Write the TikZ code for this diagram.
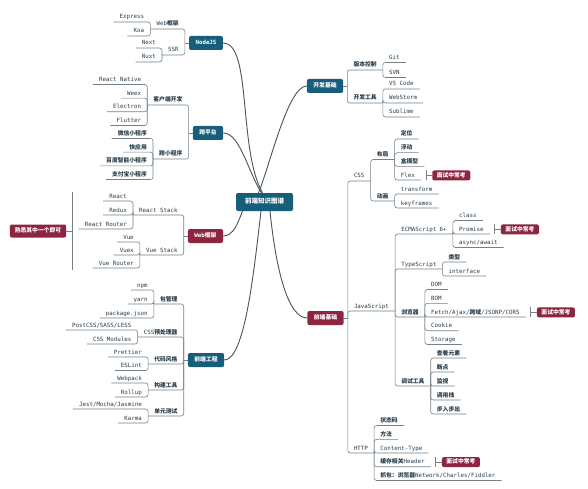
\documentclass[tikz,border=0pt]{standalone}
\usepackage{fontspec}
\setmainfont{DejaVu Sans Mono}
\newfontfamily\cjk{Noto Sans CJK SC}
\newcommand\zh[1]{{\cjk\bfseries #1}}
\definecolor{teal1}{RGB}{22,94,122}
\definecolor{mar}{RGB}{139,37,64}
\definecolor{txt}{RGB}{40,62,76}
\definecolor{ln}{RGB}{120,128,134}
\definecolor{mln}{RGB}{72,84,92}
\pgfdeclarelayer{back}\pgfdeclarelayer{bg}\pgfsetlayers{back,bg,main}
\tikzset{
 topic/.style={font=\fontsize{5.8}{7}\selectfont, text=txt, inner xsep=6pt, inner ysep=1.6pt, text height=4.4pt, text depth=1.2pt},
 br/.style={draw=ln, line width=0.6pt, rounded corners=2.5pt},
 mainl/.style={draw=mln, line width=0.9pt},
 lone/.style={fill=teal1, text=white, rounded corners=2pt, inner xsep=6.5pt, inner ysep=0pt, minimum height=14pt, text height=4.4pt, text depth=1.2pt, font=\fontsize{5.8}{7}\selectfont\bfseries},
 mbox/.style={fill=mar, text=white, rounded corners=2pt, inner xsep=4.5pt, inner ysep=0pt, minimum height=10pt, text height=4.4pt, text depth=1.2pt, font=\fontsize{5.8}{7}\selectfont},
}
\newcommand\LK[4]{%
 \node[topic, anchor=south east] (#1) at ([yshift=#3pt]#2) {#4};
 \draw[br] (#2) |- (#1.south west);}
\newcommand\RK[4]{%
 \node[topic, anchor=south west] (#1) at ([yshift=#3pt]#2) {#4};
 \draw[br] (#2) |- (#1.south east);}
\newcommand\CO[3]{%
 \coordinate (#1a) at ([xshift=5pt]#2.east);
 \draw[br, rounded corners=0pt] ([yshift=5pt]#1a) -- ([yshift=-5pt]#1a);
 \node[mbox, anchor=west] (#1) at ([xshift=6pt]#1a) {\zh{#3}};
 \draw[br] (#1a) -- (#1.west);}
\begin{document}
\begin{tikzpicture}[x=1pt,y=-1pt]
\begin{pgfonlayer}{back}
\path[use as bounding box, fill=white] (0,0) rectangle (588,489);
\end{pgfonlayer}

% center and level-1 nodes
\node[lone, minimum height=18pt, inner xsep=9pt, font=\fontsize{6.5}{8}\selectfont] (center) at (264.5,202) {\zh{前端知识图谱}};
\node[lone] (nodejs) at (206,43) {NodeJS};
\node[lone] (kd) at (208,133) {\zh{跨平台}};
\node[lone, fill=mar] (webb) at (205.5,236) {Web\zh{框架}};
\node[lone] (eng) at (206,360) {\zh{前端工程}};
\node[lone] (devb) at (325,86) {\zh{开发基础}};
\node[lone, fill=mar] (basic) at (325.5,318) {\zh{前端基础}};

\begin{pgfonlayer}{bg}
\draw[mainl] (nodejs.east) .. controls (252,43) and (238,150) .. ([xshift=-2pt]center.north);
\draw[mainl] (kd.east) .. controls (240,133) and (248,172) .. ([xshift=-3pt]center.north);
\draw[mainl] (devb.west) .. controls (288,86) and (270,165) .. ([xshift=-6pt]center.north);
\draw[mainl] (webb.east) .. controls (234,236) and (238,222) .. ([xshift=-22pt]center.south);
\draw[mainl] (eng.east) .. controls (245,360) and (254,270) .. ([xshift=-3.5pt]center.south);
\draw[mainl] (basic.west) .. controls (288,318) and (276,270) .. ([xshift=5.5pt]center.south);
\end{pgfonlayer}

% NodeJS
\coordinate (nodejsA) at ([xshift=-4pt]nodejs.west);
\draw[br] (nodejs.west) -- (nodejsA);
\LK{n1}{nodejsA}{14}{Web\zh{框架}}
\LK{n11}{n1.south west}{7}{Express}
\LK{n12}{n1.south west}{-7}{Koa}
\LK{n2}{nodejsA}{-12}{SSR}
\LK{n21}{n2.south west}{7}{Next}
\LK{n22}{n2.south west}{-7}{Nuxt}

% cross platform
\coordinate (kdA) at ([xshift=-4pt]kd.west);
\draw[br] (kd.west) -- (kdA);
\LK{k1}{kdA}{28}{\zh{客户端开发}}
\LK{k11}{k1.south west}{20.5}{React Native}
\LK{k12}{k1.south west}{6.8}{Weex}
\LK{k13}{k1.south west}{-6.8}{Electron}
\LK{k14}{k1.south west}{-20.5}{Flutter}
\LK{k2}{kdA}{-26}{\zh{跨小程序}}
\LK{k21}{k2.south west}{20.5}{\zh{微信小程序}}
\LK{k22}{k2.south west}{6.8}{\zh{快应用}}
\LK{k23}{k2.south west}{-6.8}{\zh{百度智能小程序}}
\LK{k24}{k2.south west}{-20.5}{\zh{支付宝小程序}}

% Web frameworks
\coordinate (webA) at ([xshift=-4pt]webb.west);
\draw[br] (webb.west) -- (webA);
\LK{w1}{webA}{21}{React Stack}
\LK{w11}{w1.south west}{14}{React}
\LK{w12}{w1.south west}{0}{Redux}
\LK{w13}{w1.south west}{-14}{React Router}
\LK{w2}{webA}{-19}{Vue Stack}
\LK{w21}{w2.south west}{13}{Vue}
\LK{w22}{w2.south west}{0}{Vuex}
\LK{w23}{w2.south west}{-13}{Vue Router}
\node[mbox, minimum height=13pt, inner xsep=5pt] (sum) at (38,231) {\zh{熟悉其中一个即可}};
\coordinate (sumT) at (72,192);
\coordinate (sumB) at (72,270);
\coordinate (sumM) at (72,231);
\draw[br, rounded corners=0pt] (sumT) -- (sumB);
\draw[br] (sumM) -- (sum.east);

% engineering
\coordinate (engA) at ([xshift=-4pt]eng.west);
\draw[br] (eng.west) -- (engA);
\LK{e1}{engA}{56}{\zh{包管理}}
\LK{e11}{e1.south west}{14}{npm}
\LK{e12}{e1.south west}{0}{yarn}
\LK{e13}{e1.south west}{-14}{package.json}
\LK{e2}{engA}{23}{CSS\zh{预处理器}}
\LK{e21}{e2.south west}{7}{PostCSS/SASS/LESS}
\LK{e22}{e2.south west}{-7}{CSS Modules}
\LK{e3}{engA}{-4}{\zh{代码风格}}
\LK{e31}{e3.south west}{7}{Prettier}
\LK{e32}{e3.south west}{-6.5}{ESLint}
\LK{e4}{engA}{-30}{\zh{构建工具}}
\LK{e41}{e4.south west}{7}{Webpack}
\LK{e42}{e4.south west}{-7}{Rollup}
\LK{e5}{engA}{-56}{\zh{单元测试}}
\LK{e51}{e5.south west}{7}{Jest/Mocha/Jasmine}
\LK{e52}{e5.south west}{-7}{Karma}

% dev basics
\coordinate (devbA) at ([xshift=4pt]devb.east);
\draw[br] (devb.east) -- (devbA);
\RK{d1}{devbA}{16}{\zh{版本控制}}
\RK{d11}{d1.south east}{7.5}{Git}
\RK{d12}{d1.south east}{-7.5}{SVN}
\RK{d2}{devbA}{-17}{\zh{开发工具}}
\RK{d21}{d2.south east}{14}{VS Code}
\RK{d22}{d2.south east}{0}{WebStorm}
\RK{d23}{d2.south east}{-14}{Sublime}

% front-end basics
\coordinate (basicA) at ([xshift=4pt]basic.east);
\draw[br] (basic.east) -- (basicA);
\RK{b1}{basicA}{137}{CSS}
\RK{b11}{b1.south east}{21.5}{\zh{布局}}
\RK{b111}{b11.south east}{20.5}{\zh{定位}}
\RK{b112}{b11.south east}{6.8}{\zh{浮动}}
\RK{b113}{b11.south east}{-6.8}{\zh{盒模型}}
\RK{b114}{b11.south east}{-20.5}{Flex}
\CO{c1}{b114}{面试中常考}
\RK{b12}{b1.south east}{-20}{\zh{动画}}
\RK{b121}{b12.south east}{7}{transform}
\RK{b122}{b12.south east}{-7}{keyframes}

\RK{b2}{basicA}{7}{JavaScript}
\RK{b21}{b2.south east}{77}{ECMAScript 6+}
\RK{b211}{b21.south east}{13.5}{class}
\RK{b212}{b21.south east}{0}{Promise}
\CO{c2}{b212}{面试中常考}
\RK{b213}{b21.south east}{-13.5}{async/await}
\RK{b22}{b2.south east}{42}{TypeScript}
\RK{b221}{b22.south east}{7}{\zh{类型}}
\RK{b222}{b22.south east}{-7}{interface}
\RK{b23}{b2.south east}{-6}{\zh{浏览器}}
\RK{b231}{b23.south east}{27.5}{DOM}
\RK{b232}{b23.south east}{13.7}{BOM}
\RK{b233}{b23.south east}{0}{Fetch/Ajax/\zh{跨域}/JSONP/CORS}
\CO{c3}{b233}{面试中常考}
\RK{b234}{b23.south east}{-13.7}{Cookie}
\RK{b235}{b23.south east}{-27.5}{Storage}
\RK{b24}{b2.south east}{-75}{\zh{调试工具}}
\RK{b241}{b24.south east}{28}{\zh{查看元素}}
\RK{b242}{b24.south east}{14}{\zh{断点}}
\RK{b243}{b24.south east}{0}{\zh{监视}}
\RK{b244}{b24.south east}{-14}{\zh{调用栈}}
\RK{b245}{b24.south east}{-28}{\zh{步入步出}}

\RK{b3}{basicA}{-135}{HTTP}
\RK{b31}{b3.south east}{27.5}{\zh{状态码}}
\RK{b32}{b3.south east}{13.7}{\zh{方法}}
\RK{b33}{b3.south east}{0}{Content-Type}
\RK{b34}{b3.south east}{-13.7}{\zh{缓存相关}Header}
\CO{c4}{b34}{面试中常考}
\RK{b35}{b3.south east}{-27.5}{\zh{抓包：浏览器}Network/Charles/Fiddler}
\end{tikzpicture}
\end{document}
